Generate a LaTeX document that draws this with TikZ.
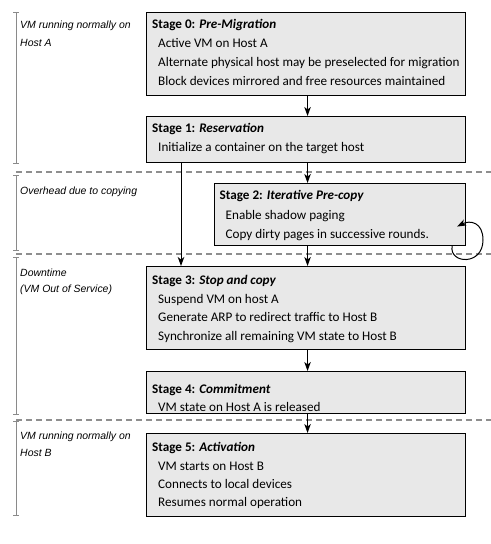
\documentclass[tikz,border=0pt]{standalone}
\usepackage{fontspec}
\setmainfont{Carlito}
\newfontfamily\labelfont{Liberation Sans}
\usetikzlibrary{arrows.meta,calc}
\definecolor{boxgray}{HTML}{E8E8E8}
\definecolor{sepgray}{HTML}{8E8E8E}
\definecolor{brgray}{HTML}{8A8A8A}
\begin{document}
\begin{tikzpicture}[x=1bp,y=-1bp,
  stagebox/.style={draw=black, line width=1.1bp, fill=boxgray, inner sep=0pt, anchor=north west, minimum width=319bp},
  ttl/.style={anchor=base west, inner sep=0pt, font=\fontsize{13.2}{15}\selectfont\bfseries},
  itm/.style={anchor=base west, inner sep=0pt, font=\fontsize{13.2}{15}\selectfont},
  lbl/.style={anchor=base west, inner sep=0pt, font=\labelfont\itshape\fontsize{10.5}{12}\selectfont},
  sepline/.style={draw=sepgray, line width=1.2bp, dash pattern=on 6bp off 4bp},
  bracket/.style={draw=brgray, line width=1bp},
  arr/.style={draw=black, line width=1bp, -{Stealth[length=9bp,width=6.5bp,inset=2.5bp]}}
]
\useasboundingbox[fill=white] (0,0) rectangle (491,544);

% separators
\coordinate (d1a) at (16,172); \coordinate (d1b) at (491,172);
\coordinate (d2a) at (16,254); \coordinate (d2b) at (491,254);
\coordinate (d3a) at (16,420); \coordinate (d3b) at (491,420);
\draw[sepline] (d1a) -- (d1b);
\draw[sepline] (d2a) -- (d2b);
\draw[sepline] (d3a) -- (d3b);

% brackets
\foreach \a/\b in {13/164, 176/250, 257/414, 421/515}{
  \draw[bracket] (13,\a) -- (19,\a) (16,\a) -- (16,\b) (13,\b) -- (19,\b);
}

% left labels
\node[lbl] (la1) at (20,29) {VM running normally on};
\node[lbl] (la2) at (20,47) {Host A};
\node[lbl] (lb1) at (20,195) {Overhead due to copying};
\node[lbl] (lc1) at (20,276) {Downtime};
\node[lbl] (lc2) at (20,292) {(VM Out of Service)};
\node[lbl] (ld1) at (20,439) {VM running normally on};
\node[lbl] (ld2) at (20,456) {Host B};

% boxes
\node[stagebox, minimum height=83bp] (s0) at (146,12) {};
\node[stagebox, minimum height=46bp] (s1) at (146,116) {};
\node[stagebox, minimum width=251bp, minimum height=62bp] (s2) at (214,183) {};
\node[stagebox, minimum height=83bp] (s3) at (146,266) {};
\node[stagebox, minimum height=42bp] (s4) at (146,371) {};
\node[stagebox, minimum height=83bp] (s5) at (146,433) {};

% texts
\node[ttl] (t0) at (152,28.5) {Stage 0: \textit{Pre-Migration}};
\node[itm] (t0a) at (158,47.5) {Active VM on Host A};
\node[itm] (t0b) at (158,66.5) {Alternate physical host may be preselected for migration};
\node[itm] (t0c) at (158,85.5) {Block devices mirrored and free resources maintained};

\node[ttl] (t1) at (152,132.5) {Stage 1: \textit{Reservation}};
\node[itm] (t1a) at (158,151.5) {Initialize a container on the target host};

\node[ttl] (t2) at (219.5,199.5) {Stage 2: \textit{Iterative Pre-copy}};
\node[itm] (t2a) at (225.5,219.5) {Enable shadow paging};
\node[itm] (t2b) at (225.5,238.5) {Copy dirty pages in successive rounds.};

\node[ttl] (t3) at (152,284.5) {Stage 3: \textit{Stop and copy}};
\node[itm] (t3a) at (158,303.5) {Suspend VM on host A};
\node[itm] (t3b) at (158,321.5) {Generate ARP to redirect traffic to Host B};
\node[itm] (t3c) at (158,340.5) {Synchronize all remaining VM state to Host B};

\node[ttl] (t4) at (152,393.5) {Stage 4: \textit{Commitment}};
\node[itm] (t4a) at (158,411.5) {VM state on Host A is released};

\node[ttl] (t5) at (152,451.5) {Stage 5: \textit{Activation}};
\node[itm] (t5a) at (158,470.5) {VM starts on Host B};
\node[itm] (t5b) at (158,488.5) {Connects to local devices};
\node[itm] (t5c) at (158,506.5) {Resumes normal operation};

% arrow anchor points
\coordinate (a0) at ($(s0.south)+(1.5,0)$);
\coordinate (a1) at ($(s1.south)+(1.5,0)$);
\coordinate (a2) at (a1 |- s2.south);
\coordinate (a3) at ($(s3.south)+(1.5,0)$);
\coordinate (a4) at ($(s4.south)+(1.5,0)$);
\coordinate (b1) at ($(s1.south west)+(35,0)$);

% arrows
\draw[arr] (a0) -- (a0 |- s1.north);
\draw[arr] (a1) -- (a1 |- s2.north);
\draw[arr] (b1) -- (b1 |- s3.north);
\draw[arr] (a2) -- (a2 |- s3.north);
\draw[arr] (a3) -- (a3 |- s4.north);
\draw[arr] (a4) -- (a4 |- s5.north);

% loop
\coordinate (lp0) at ($(s2.south east)+(-14,0)$);
\coordinate (lp1) at (483,240);
\coordinate (lp2) at ($(s2.east)+(-9,12)$);
\draw[arr] (lp0) .. controls (449,264) and (483,266) .. (lp1)
  .. controls (483,222) and (470,220) .. (lp2);
\end{tikzpicture}
\end{document}
